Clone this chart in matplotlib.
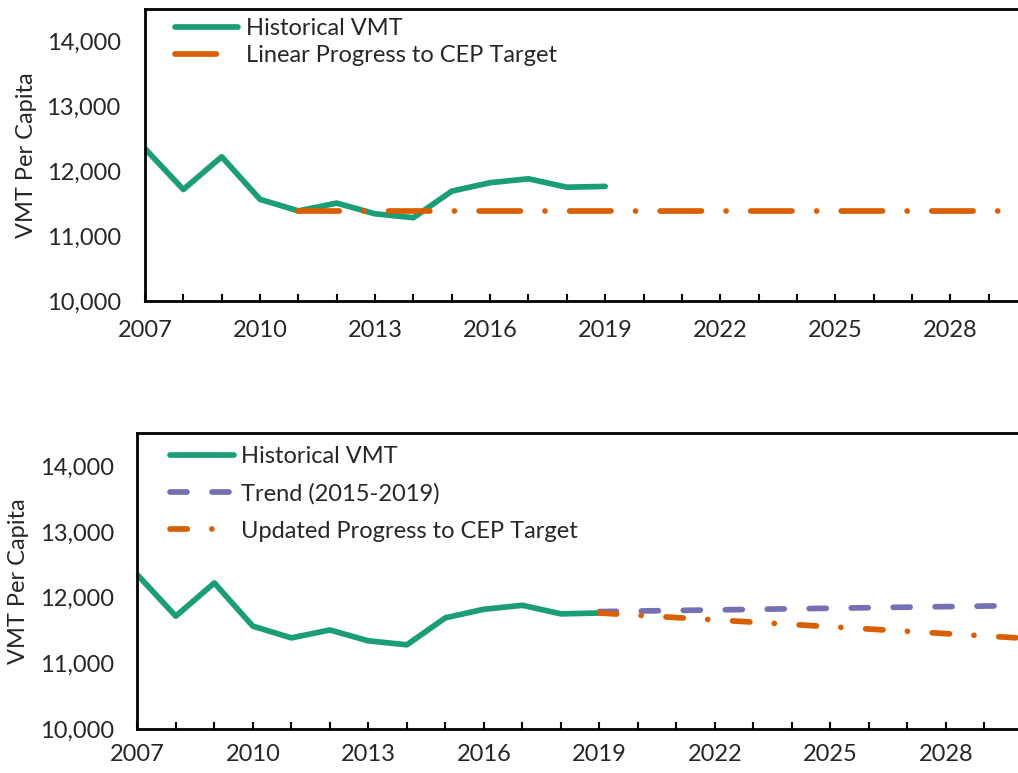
import numpy as np
import matplotlib
matplotlib.use('Agg')
import matplotlib.pyplot as plt
from matplotlib.ticker import FuncFormatter

plt.rcParams['font.family'] = ['Lato', 'DejaVu Sans']

# historical vehicle miles travelled per capita
hist_years = [2007, 2008, 2009, 2010, 2011, 2012, 2013, 2014, 2015, 2016, 2017, 2018, 2019]
hist_vmt = [12350, 11720, 12225, 11568, 11390, 11510, 11345, 11285, 11695, 11825, 11885, 11755, 11768]

# linear path to the CEP target (flat from 2011)
linear_years = [2011, 2030]
linear_vmt = [11385, 11385]

# 2015-2019 trend projected forward
trend_years = [2019, 2030]
trend_vmt = [11790, 11882]

# updated path from the 2019 value to the target
updated_years = [2019, 2030]
updated_vmt = [11768, 11385]

green = '#1B9E77'
orange = '#D95F02'
purple = '#7570B3'
lw = 4.1
fs = 17

fig = plt.figure(figsize=(10.18, 7.73), dpi=100)
ax1 = fig.add_axes([145/1018, 0.6106, 882/1018, 0.3774])
ax2 = fig.add_axes([137.3/1018, 0.0565, 885.7/1018, 0.383])

comma = FuncFormatter(lambda v, p: f'{int(v):,}')


def style(ax, ypad, xpad):
    ax.set_xlim(2007, 2030)
    ax.set_ylim(10000, 14500)
    ax.set_yticks([10000, 11000, 12000, 13000, 14000])
    ax.yaxis.set_major_formatter(comma)
    ax.set_xticks(range(2007, 2031))
    ax.set_xticklabels([str(y) if (y - 2007) % 3 == 0 else '' for y in range(2007, 2031)])
    ax.tick_params(axis='y', length=0, pad=ypad, labelsize=fs, colors='#262626')
    ax.tick_params(axis='x', direction='in', length=5, width=1.5, pad=xpad,
                   labelsize=fs, colors='black', labelcolor='#262626')
    for s in ax.spines.values():
        s.set_linewidth(2)
    ax.spines['right'].set_visible(False)
    ax.set_ylabel('VMT Per Capita', fontsize=fs, color='#262626')


style(ax1, 17.5, 14)
style(ax2, 16.5, 10.5)
ax1.yaxis.set_label_coords(-0.122, 0.5)
ax2.yaxis.set_label_coords(-0.122, 0.5)

# top panel
ax1.plot(hist_years, hist_vmt, color=green, lw=lw, solid_capstyle='round',
         solid_joinstyle='round', label='Historical VMT')
ax1.plot(linear_years, linear_vmt, color=orange, lw=lw, dash_capstyle='round',
         dashes=[7.25, 4.32, 0.01, 4.32], label='Linear Progress to CEP Target')

# bottom panel
ax2.plot(hist_years, hist_vmt, color=green, lw=lw, solid_capstyle='round',
         solid_joinstyle='round', label='Historical VMT')
ax2.plot(trend_years, trend_vmt, color=purple, lw=lw, dash_capstyle='round',
         dashes=[2.98, 4.39], label='Trend (2015-2019)')
ax2.plot(updated_years, updated_vmt, color=orange, lw=lw, dash_capstyle='round',
         dashes=[3.04, 4.3, 0.01, 4.36], label='Updated Progress to CEP Target')

ax1.legend(loc='upper left', bbox_to_anchor=(174.9/1018, 1 - 18/773),
           bbox_transform=fig.transFigure, frameon=False, fontsize=fs,
           handlelength=2.67, handletextpad=0.36, labelspacing=0.25,
           borderpad=0, borderaxespad=0, labelcolor='#262626')
ax2.legend(loc='upper left', bbox_to_anchor=(169.5/1018, 1 - 446/773),
           bbox_transform=fig.transFigure, frameon=False, fontsize=fs,
           handlelength=2.73, handletextpad=0.3, labelspacing=0.68,
           borderpad=0, borderaxespad=0, labelcolor='#262626')

fig.savefig('out.png', dpi=100)
